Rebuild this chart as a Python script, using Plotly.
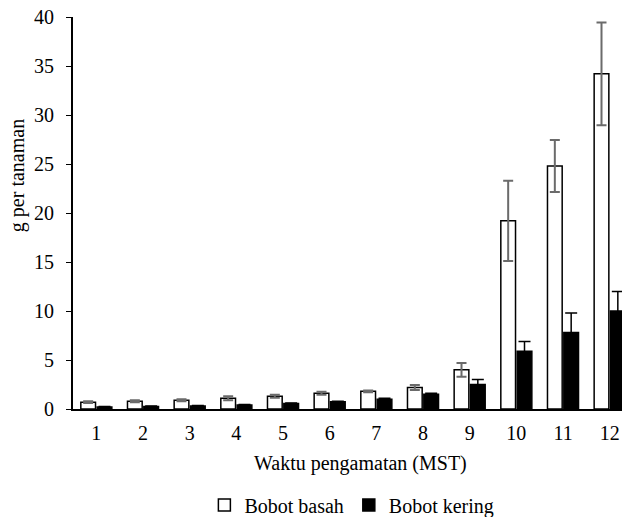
import plotly.graph_objects as go

weeks = ["1", "2", "3", "4", "5", "6", "7", "8", "9", "10", "11", "12"]
bobot_basah = [0.7, 0.8, 0.9, 1.1, 1.3, 1.6, 1.8, 2.2, 4.0, 19.2, 24.8, 34.2]
err_basah = [0.1, 0.1, 0.1, 0.2, 0.15, 0.15, 0.1, 0.25, 0.7, 4.1, 2.65, 5.25]
bobot_kering = [0.2, 0.25, 0.3, 0.4, 0.55, 0.75, 1.0, 1.5, 2.5, 5.9, 7.8, 10.0]
err_kering = [0.05, 0.05, 0.05, 0.05, 0.05, 0.05, 0.1, 0.1, 0.5, 1.0, 2.0, 2.0]

font = "Liberation Serif"
fs = 20

fig = go.Figure()
fig.add_trace(go.Bar(
    x=weeks, y=bobot_basah, name="Bobot basah",
    marker=dict(color="white", line=dict(color="black", width=1.5)),
    error_y=dict(type="data", array=err_basah, color="#6b6b6b", thickness=2, width=5),
))
fig.add_trace(go.Bar(
    x=weeks, y=bobot_kering, name="Bobot kering",
    marker=dict(color="black", line=dict(color="black", width=1.5)),
    error_y=dict(type="data", array=err_kering, color="black", thickness=1.5, width=6),
))

fig.update_layout(
    width=626, height=509,
    margin=dict(l=65, r=1, t=9, b=108, autoexpand=False),
    paper_bgcolor="white", plot_bgcolor="white",
    barmode="group", bargap=0.3, bargroupgap=0.1,
    font=dict(family=font, size=fs, color="black"),
    showlegend=True,
    legend=dict(orientation="h", x=0.498, xanchor="center", y=-0.245, yanchor="middle",
                font=dict(family=font, size=fs), itemwidth=30, traceorder="normal"),
    xaxis=dict(
        showline=True, linecolor="black", linewidth=2, ticks="", showgrid=False,
        tickfont=dict(family=font, size=fs), ticklabelstandoff=5, automargin=False,
    ),
    yaxis=dict(
        range=[0, 40], dtick=5, showline=True, linecolor="black", linewidth=2,
        ticks="outside", ticklen=5, tickcolor="black", showgrid=False, zeroline=False,
        tickfont=dict(family=font, size=fs), ticklabelstandoff=8, automargin=False,
        ticklabeloverflow="allow",
    ),
    annotations=[
        dict(text="Waktu pengamatan (MST)", xref="paper", yref="paper",
             x=0.513, y=-0.138, xanchor="center", yanchor="middle", showarrow=False,
             font=dict(family=font, size=fs)),
        dict(text="g per tanaman", xref="paper", yref="paper",
             x=-0.1, y=0.594, xanchor="center", yanchor="middle", showarrow=False,
             textangle=-90, font=dict(family=font, size=fs)),
    ],
)

fig.write_html("out.html")
